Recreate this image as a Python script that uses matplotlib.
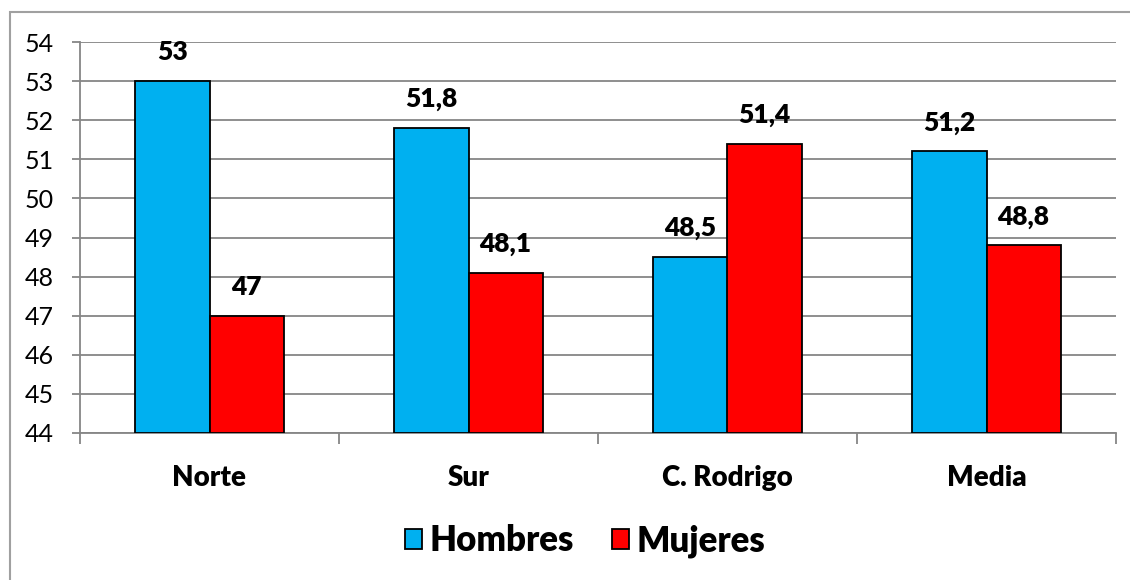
import numpy as np
import matplotlib
matplotlib.use("Agg")
import matplotlib.pyplot as plt
from matplotlib.patches import Rectangle

categorias = ["Norte", "Sur", "C. Rodrigo", "Media"]
hombres = [53, 51.8, 48.5, 51.2]
mujeres = [47, 48.1, 51.4, 48.8]
etiquetas_h = ["53", "51,8", "48,5", "51,2"]
etiquetas_m = ["47", "48,1", "51,4", "48,8"]

plt.rcParams['font.family'] = ['Lato', 'DejaVu Sans']

fig = plt.figure(figsize=(11.3, 5.8), dpi=100)
ax = fig.add_axes([80 / 1130, 1 - 433 / 580, 1036 / 1130, 391 / 580])

# marco exterior del grafico
fig.patches.append(Rectangle((10 / 1130, -0.05), 1.2, 1 - 12 / 580 + 0.05,
                             transform=fig.transFigure, fill=False,
                             edgecolor='#A0A0A0', linewidth=1.5))

x = np.arange(len(categorias))
w = 0.286
gris = '#868686'

b1 = ax.bar(x - w / 2, np.array(hombres) - 44, w, bottom=44, color='#00B0F0',
            edgecolor='black', linewidth=1.3, label='Hombres', zorder=3)
b2 = ax.bar(x + w / 2, np.array(mujeres) - 44, w, bottom=44, color='#FF0000',
            edgecolor='black', linewidth=1.3, label='Mujeres', zorder=3)

for xi, v, t in zip(x - w / 2, hombres, etiquetas_h):
    ax.annotate(t, (xi, v), xytext=(0, 12), textcoords='offset points',
                ha='center', va='bottom', fontsize=19, fontweight='heavy')
for xi, v, t in zip(x + w / 2, mujeres, etiquetas_m):
    ax.annotate(t, (xi, v), xytext=(0, 12), textcoords='offset points',
                ha='center', va='bottom', fontsize=19, fontweight='heavy')

ax.set_xlim(-0.5, len(categorias) - 0.5)
ax.set_ylim(44, 54)
ax.set_yticks(range(44, 55))
ax.tick_params(axis='y', labelsize=18, length=6, width=1.3, color=gris, pad=13)
ax.yaxis.grid(True, color=gris, linewidth=1.3, zorder=0)

# ticks de categoria en los bordes, etiquetas en el centro
ax.set_xticks(np.arange(-0.5, len(categorias), 1))
ax.set_xticklabels([])
ax.set_xticks(x, minor=True)
ax.set_xticklabels(categorias, minor=True, fontsize=20, fontweight='heavy')
ax.tick_params(axis='x', which='major', length=8, width=1.3, color=gris)
ax.tick_params(axis='x', which='minor', length=0, pad=23)

for s in ['top', 'right']:
    ax.spines[s].set_visible(False)
for s in ['left', 'bottom']:
    ax.spines[s].set_color(gris)
    ax.spines[s].set_linewidth(1.3)

leg = fig.legend(handles=[b1, b2], loc='center', bbox_to_anchor=(585 / 1130, 1 - 541 / 580),
                 ncol=2, frameon=False, prop={'size': 25, 'weight': 'heavy'},
                 handlelength=0.5, handleheight=0.5, handletextpad=0.2, columnspacing=1.1)

fig.savefig("out.png", dpi=100)
